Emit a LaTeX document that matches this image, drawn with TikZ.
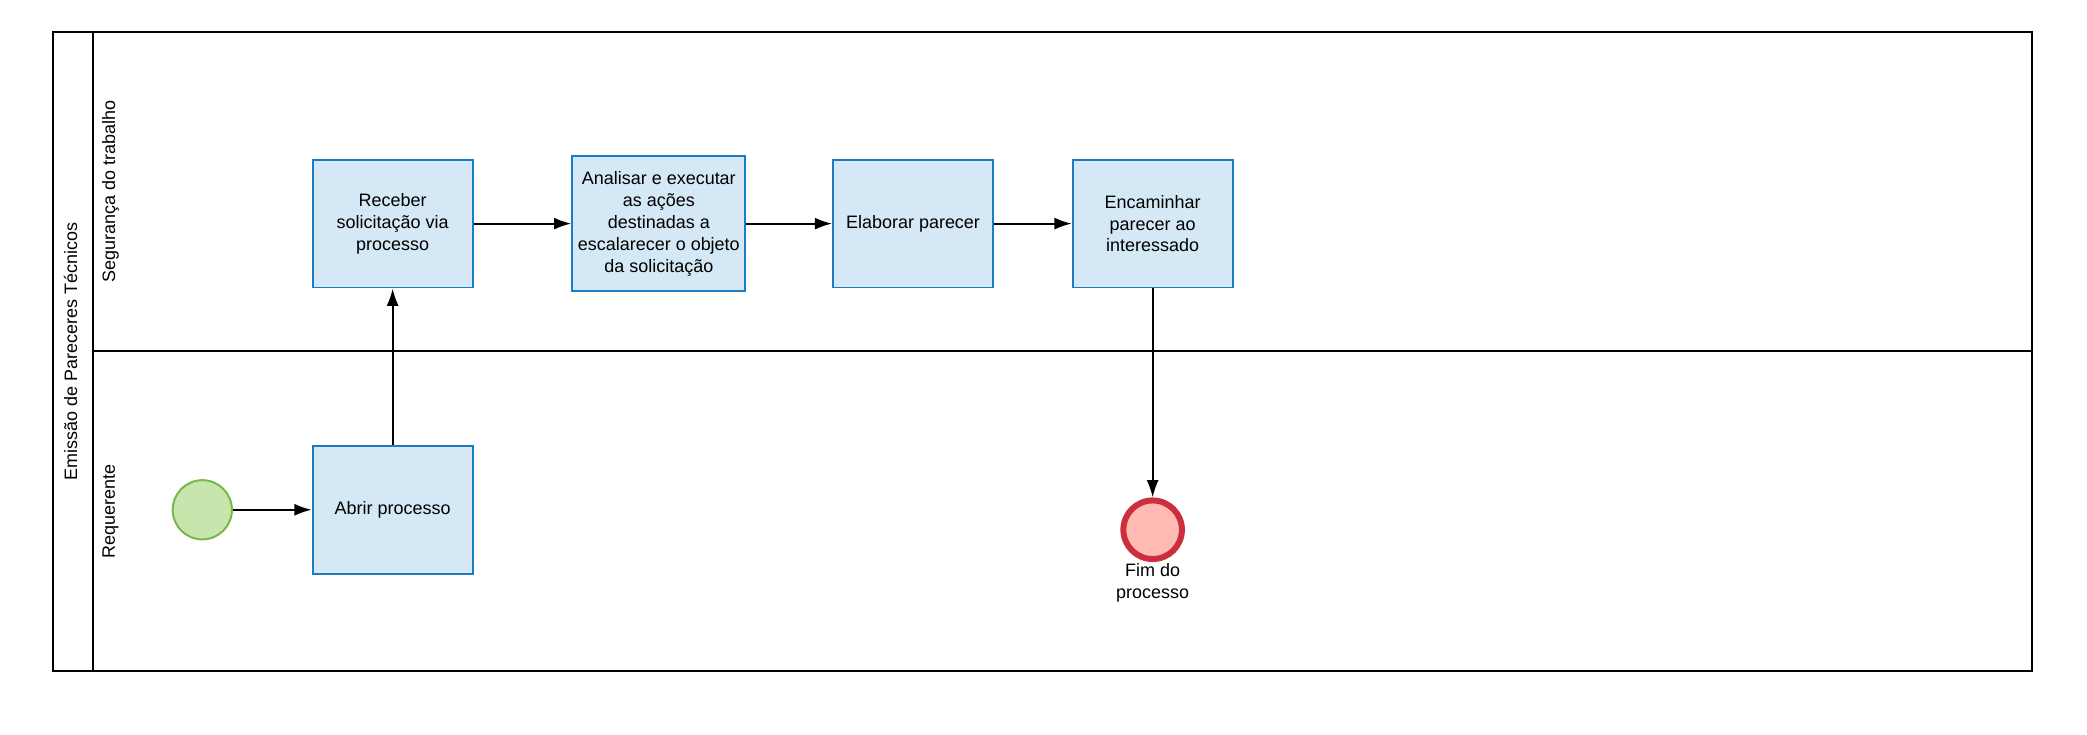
\documentclass[tikz,border=0pt]{standalone}
\usepackage{fontspec}
\setmainfont{Liberation Sans}
\usetikzlibrary{arrows.meta}
\definecolor{taskfill}{HTML}{D5E8F5}
\definecolor{taskline}{HTML}{1D7BC0}
\definecolor{startfill}{HTML}{C7E6AE}
\definecolor{startline}{HTML}{7AB648}
\definecolor{endfill}{HTML}{FFBBB1}
\definecolor{endline}{HTML}{CC2E3E}
\begin{document}
\begin{tikzpicture}[x=1pt, y=-1pt, font=\fontsize{13.5}{16.5}\selectfont,
  task/.style={shape=rectangle, draw=taskline, fill=taskfill, line width=1.5pt, minimum width=120pt, minimum height=96pt, align=center, inner sep=2pt},
  flow/.style={-{Latex[length=13pt,width=9pt]}, line width=1.5pt, draw=black},
  lanetitle/.style={rotate=90, inner sep=0pt}]
\useasboundingbox (0,0) rectangle (1568,552);
% pool and lanes
\draw[line width=1.5pt] (40,24) rectangle (1527,504);
\draw[line width=1.5pt] (70,24) -- (70,504);
\draw[line width=1.5pt] (70,264) -- (1527,264);
\node[lanetitle] (pool) at (53,264) {Emissão de Pareceres Técnicos};
\node[lanetitle] (seg) at (83,144) {Segurança do trabalho};
\node[lanetitle] (req) at (83,384) {Requerente};
% events and tasks
\node[shape=circle, draw=startline, fill=startfill, line width=1.5pt, minimum size=44.5pt, inner sep=0pt] (start) at (152,383) {};
\node[task] (abrir) at (295,383) {Abrir processo};
\node[task] (receber) at (295,168) {Receber\\solicitação via\\processo};
\node[task, minimum width=130pt, minimum height=101pt] (analisar) at (495,168) {Analisar e executar\\as ações\\destinadas a\\escalarecer o objeto\\da solicitação};
\node[task] (elaborar) at (686,168) {Elaborar parecer};
\node[task] (encaminhar) at (866,168) {Encaminhar\\parecer ao\\interessado};
\node[shape=circle, draw=endline, fill=endfill, line width=4.5pt, minimum size=44pt, inner sep=0pt,
  label={[align=center, inner sep=1pt]below:Fim do\\processo}] (fim) at (866,398) {};
% sequence flows
\path[flow] (start) edge (abrir);
\path[flow] (abrir) edge (receber);
\path[flow] (receber) edge (analisar);
\path[flow] (analisar) edge (elaborar);
\path[flow] (elaborar) edge (encaminhar);
\path[flow] (encaminhar) edge (fim);
\end{tikzpicture}
\end{document}
